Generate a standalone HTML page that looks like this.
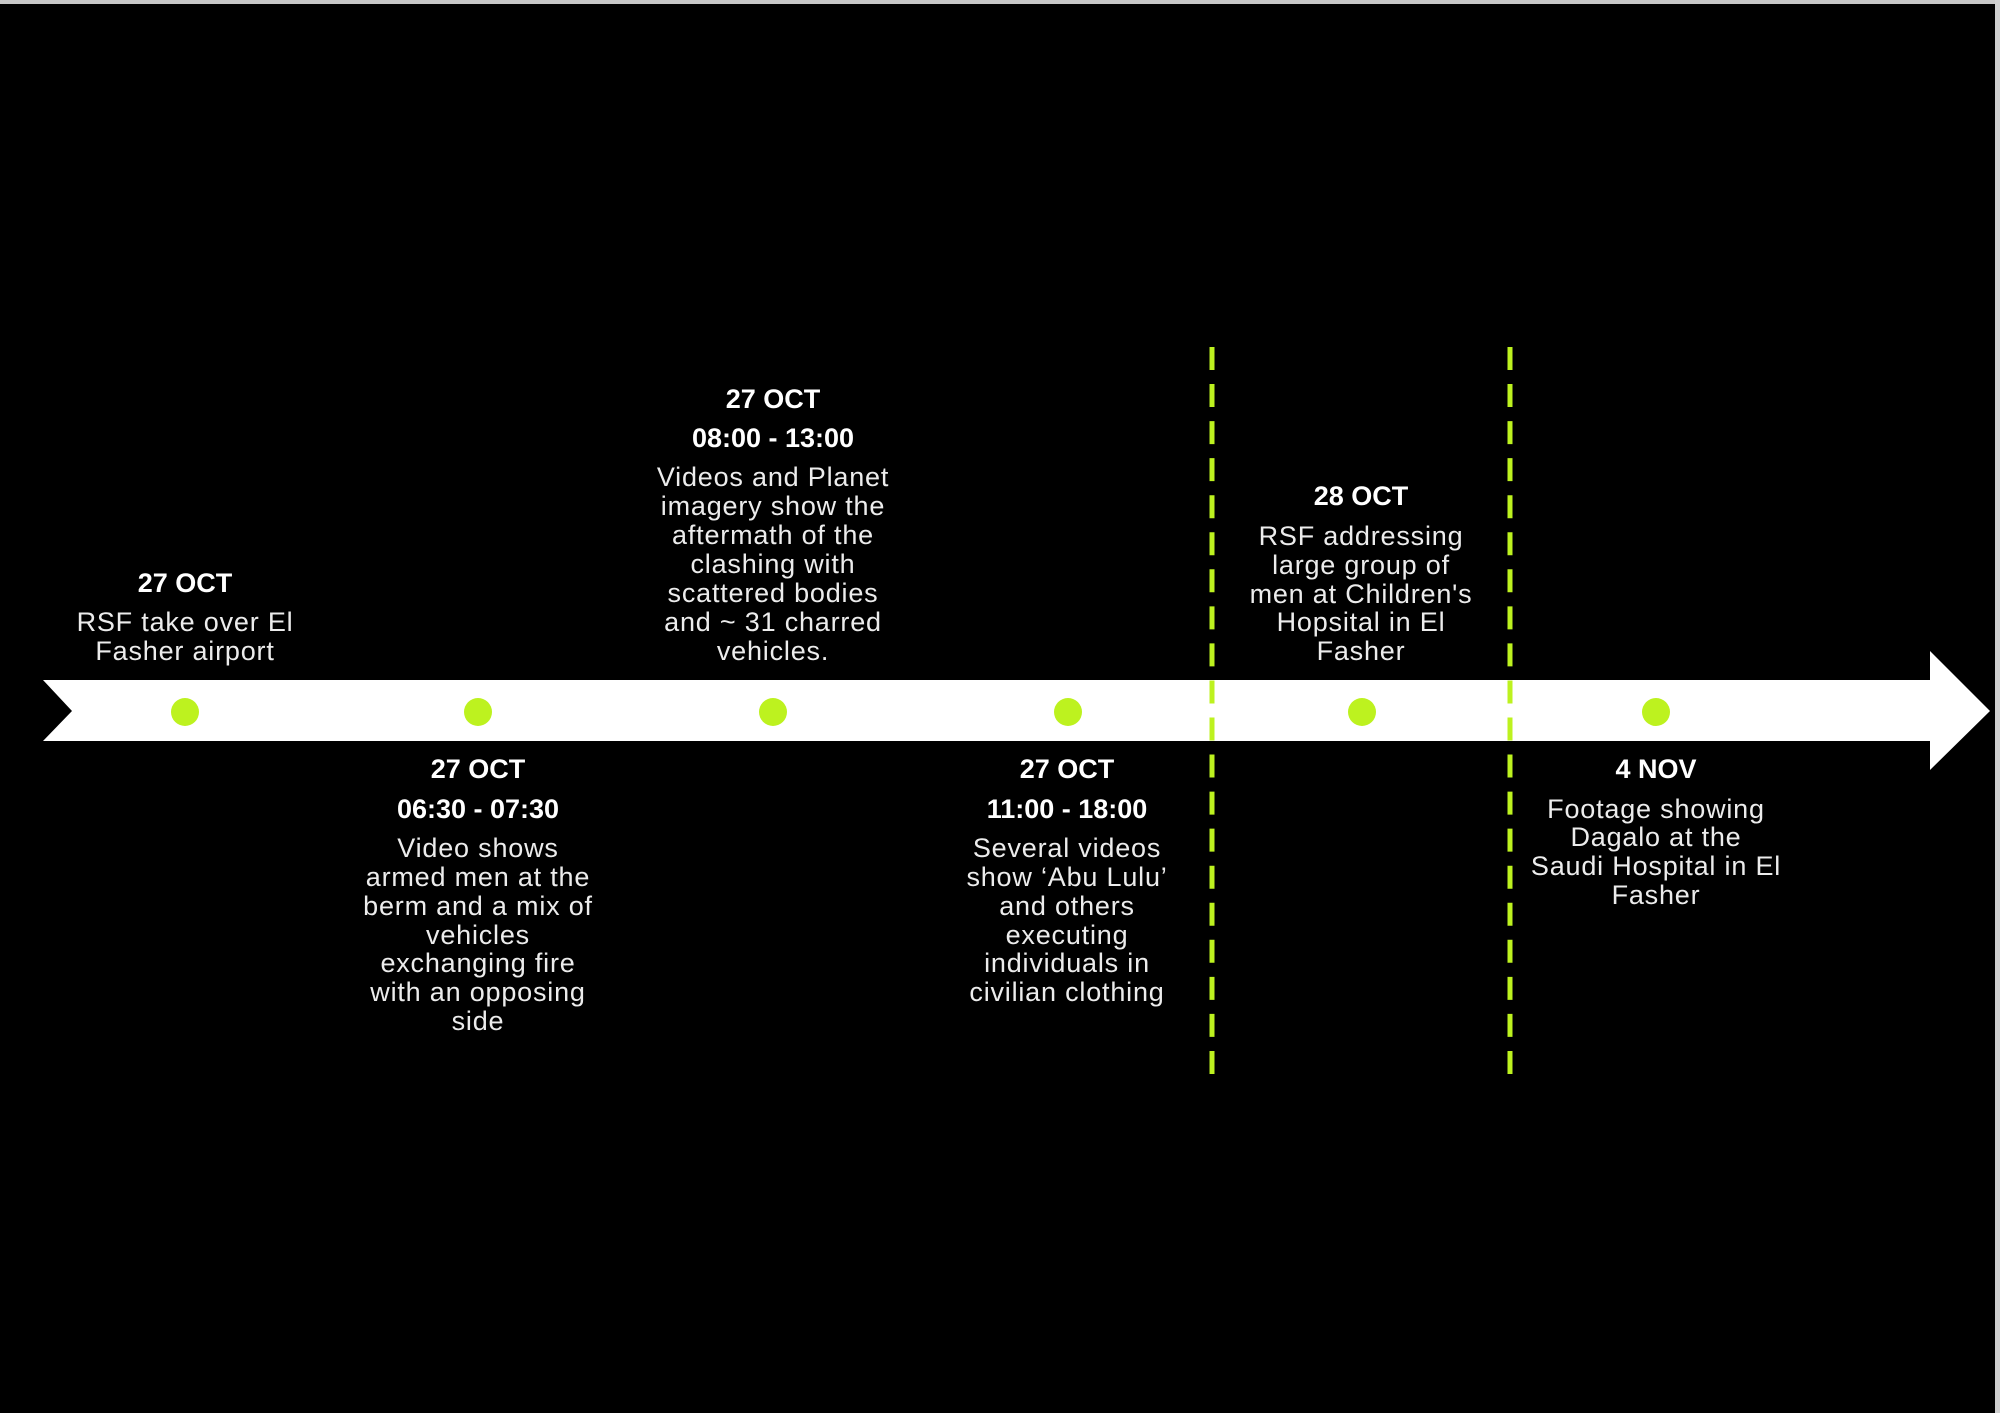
<!DOCTYPE html>
<html><head><meta charset="utf-8"><style>
html,body{margin:0;padding:0;background:#000;width:2000px;height:1413px;overflow:hidden}
svg{display:block}
text{font-family:"Liberation Sans",sans-serif;fill:#ececec;text-anchor:middle;dominant-baseline:central}
.t{font-weight:bold;font-size:27px;fill:#fff}
.b{font-size:27px;letter-spacing:0.8px}
</style></head><body>
<svg width="2000" height="1413" viewBox="0 0 2000 1413" xmlns="http://www.w3.org/2000/svg">
<rect x="0" y="0" width="2000" height="1413" fill="#000"/>
<rect x="0" y="0" width="2000" height="4" fill="#c8c8c8"/>
<rect x="1995" y="0" width="5" height="1413" fill="#d0d0d0"/>
<polygon points="43,680 1930,680 1930,651 1990,711 1930,770 1930,741 43,741 72,711" fill="#fff"/>
<g stroke="#bdf21f" stroke-width="5" stroke-dasharray="23 14.05">
<line x1="1212" y1="347" x2="1212" y2="1074"/>
<line x1="1510" y1="347" x2="1510" y2="1074"/>
</g>
<g fill="#bdf21f">
<circle cx="185" cy="712" r="14"/>
<circle cx="478" cy="712" r="14"/>
<circle cx="773" cy="712" r="14"/>
<circle cx="1068" cy="712" r="14"/>
<circle cx="1362" cy="712" r="14"/>
<circle cx="1656" cy="712" r="14"/>
</g>
<text class="t" x="185" y="583">27 OCT</text>
<text class="b" x="185" y="622">RSF take over El</text>
<text class="b" x="185" y="651">Fasher airport</text>
<text class="t" x="478" y="769">27 OCT</text>
<text class="t" x="478" y="809">06:30 - 07:30</text>
<text class="b" x="478" y="848">Video shows</text>
<text class="b" x="478" y="877">armed men at the</text>
<text class="b" x="478" y="906">berm and a mix of</text>
<text class="b" x="478" y="935">vehicles</text>
<text class="b" x="478" y="963">exchanging fire</text>
<text class="b" x="478" y="992">with an opposing</text>
<text class="b" x="478" y="1021">side</text>
<text class="t" x="773" y="399">27 OCT</text>
<text class="t" x="773" y="438">08:00 - 13:00</text>
<text class="b" x="773" y="477">Videos and Planet</text>
<text class="b" x="773" y="506">imagery show the</text>
<text class="b" x="773" y="535">aftermath of the</text>
<text class="b" x="773" y="564">clashing with</text>
<text class="b" x="773" y="593">scattered bodies</text>
<text class="b" x="773" y="622">and ~ 31 charred</text>
<text class="b" x="773" y="651">vehicles.</text>
<text class="t" x="1067" y="769">27 OCT</text>
<text class="t" x="1067" y="809">11:00 - 18:00</text>
<text class="b" x="1067" y="848">Several videos</text>
<text class="b" x="1067" y="877">show ‘Abu Lulu’</text>
<text class="b" x="1067" y="906">and others</text>
<text class="b" x="1067" y="935">executing</text>
<text class="b" x="1067" y="963">individuals in</text>
<text class="b" x="1067" y="992">civilian clothing</text>
<text class="t" x="1361" y="496">28 OCT</text>
<text class="b" x="1361" y="536">RSF addressing</text>
<text class="b" x="1361" y="565">large group of</text>
<text class="b" x="1361" y="594">men at Children's</text>
<text class="b" x="1361" y="622">Hopsital in El</text>
<text class="b" x="1361" y="651">Fasher</text>
<text class="t" x="1656" y="769">4 NOV</text>
<text class="b" x="1656" y="809">Footage showing</text>
<text class="b" x="1656" y="837">Dagalo at the</text>
<text class="b" x="1656" y="866">Saudi Hospital in El</text>
<text class="b" x="1656" y="895">Fasher</text>
</svg>
</body></html>
